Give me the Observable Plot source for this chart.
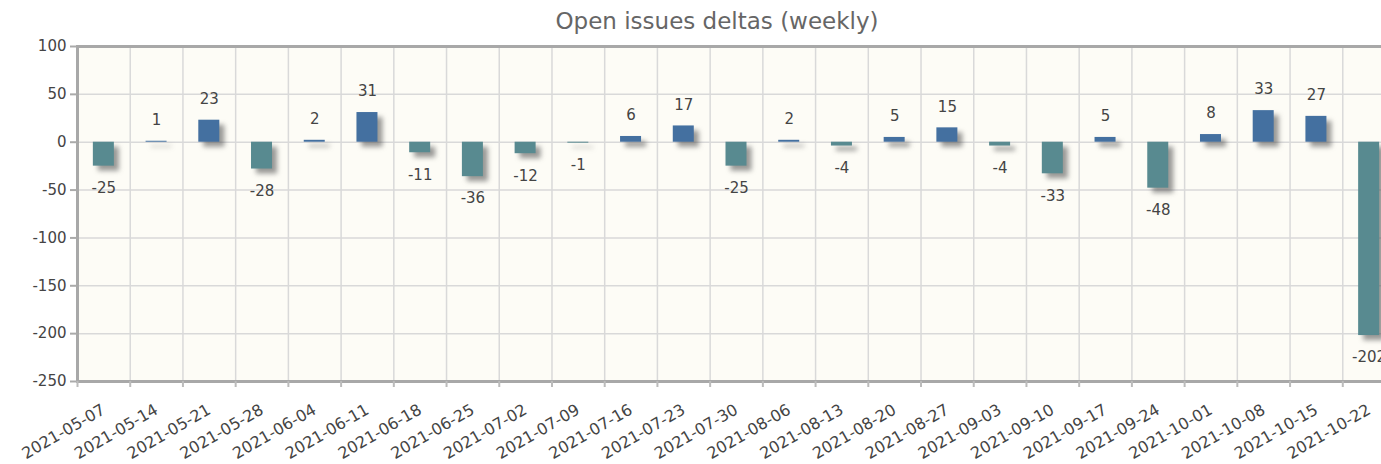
<!DOCTYPE html>
<html><head><meta charset="utf-8">
<script src="https://cdn.jsdelivr.net/npm/d3@7"></script>
<script src="https://cdn.jsdelivr.net/npm/@observablehq/plot@0.6"></script>
<style>
body{margin:0;overflow:hidden;background:#fff;font-family:"DejaVu Sans",sans-serif;}
#title{width:1434px;height:36px;line-height:42px;text-align:center;font-size:23px;color:#666;}
</style></head><body>
<div id="title">Open issues deltas (weekly)</div>
<div id="chart"></div>
<script>
const weeks = ["2021-05-07","2021-05-14","2021-05-21","2021-05-28","2021-06-04","2021-06-11","2021-06-18","2021-06-25","2021-07-02","2021-07-09","2021-07-16","2021-07-23","2021-07-30","2021-08-06","2021-08-13","2021-08-20","2021-08-27","2021-09-03","2021-09-10","2021-09-17","2021-09-24","2021-10-01","2021-10-08","2021-10-15","2021-10-22"];
const deltas = [-25,1,23,-28,2,31,-11,-36,-12,-1,6,17,-25,2,-4,5,15,-4,-33,5,-48,8,33,27,-202];
const yTicks = [-250,-200,-150,-100,-50,0,50,100];

const data = weeks.map((w,i)=>({week:w, delta:deltas[i]}));
const pos = data.filter(d=>d.delta>=0), neg = data.filter(d=>d.delta<0);
const W = 1400, ML = 77, MR = 5;
const bw = (W-ML-MR)/weeks.length;
const inset = (bw-21)/2;
const gridC = "#d9d9d9";

const chart = Plot.plot({
  width: W, height: 428,
  marginLeft: ML, marginRight: MR, marginTop: 10, marginBottom: 83,
  style:{fontFamily:"DejaVu Sans", fontSize:"14px", color:"#444", background:"transparent", maxWidth:"none", overflow:"hidden"},
  x:{type:"band", domain:weeks, padding:0, round:false, label:null},
  y:{domain:[-250,100], label:null},
  marks:[
    Plot.frame({fill:"#fdfcf6"}),
    Plot.gridY(yTicks, {stroke:gridC, strokeOpacity:1, strokeWidth:1.5}),
    Plot.ruleX(weeks, {x:d=>d, dx:-bw/2, stroke:gridC, strokeWidth:1.5}),
    Plot.barY(data, {x:"week", y:"delta", fill:"#555", fillOpacity:0.6, dx:5, dy:5, insetLeft:inset, insetRight:inset}),
    Plot.barY(pos, {x:"week", y:"delta", fill:"#4470a0", insetLeft:inset, insetRight:inset}),
    Plot.barY(neg, {x:"week", y:"delta", fill:"#588a90", insetLeft:inset, insetRight:inset}),
    Plot.text(pos, {x:"week", y:"delta", text:d=>String(d.delta), dy:-21, fill:"#444", fontSize:15}),
    Plot.text(neg, {x:"week", y:"delta", text:d=>String(d.delta), dy:22, fill:"#444", fontSize:15}),
    Plot.frame({stroke:"#a8a8a8", strokeWidth:3}),
    Plot.axisY({ticks:yTicks, tickFormat:d=>String(d), tickSize:7, tickPadding:4, stroke:"#aaa", fill:"#444", fontSize:15, strokeWidth:2}),
    Plot.axisX({tickSize:6, tickFormat:()=>"", dx:-bw/2, stroke:"#bbb", strokeWidth:2}),
    Plot.axisX({tickSize:0, tickRotate:-30, tickPadding:27, fill:"#444", fontSize:16})
  ]
});
const ns = "http://www.w3.org/2000/svg";
const defs = document.createElementNS(ns, "defs");
const filt = document.createElementNS(ns, "filter");
filt.setAttribute("id", "barshadow");
filt.setAttribute("x", "-50%"); filt.setAttribute("y", "-50%");
filt.setAttribute("width", "200%"); filt.setAttribute("height", "200%");
const blur = document.createElementNS(ns, "feGaussianBlur");
blur.setAttribute("stdDeviation", "2.5");
filt.appendChild(blur); defs.appendChild(filt); chart.insertBefore(defs, chart.firstChild);
const sh = chart.querySelectorAll('g[aria-label="bar"]')[0];
if (sh) { sh.setAttribute("filter", "url(#barshadow)"); sh.style.filter = "blur(2.5px)"; }
document.getElementById("chart").appendChild(chart);
</script></body></html>
